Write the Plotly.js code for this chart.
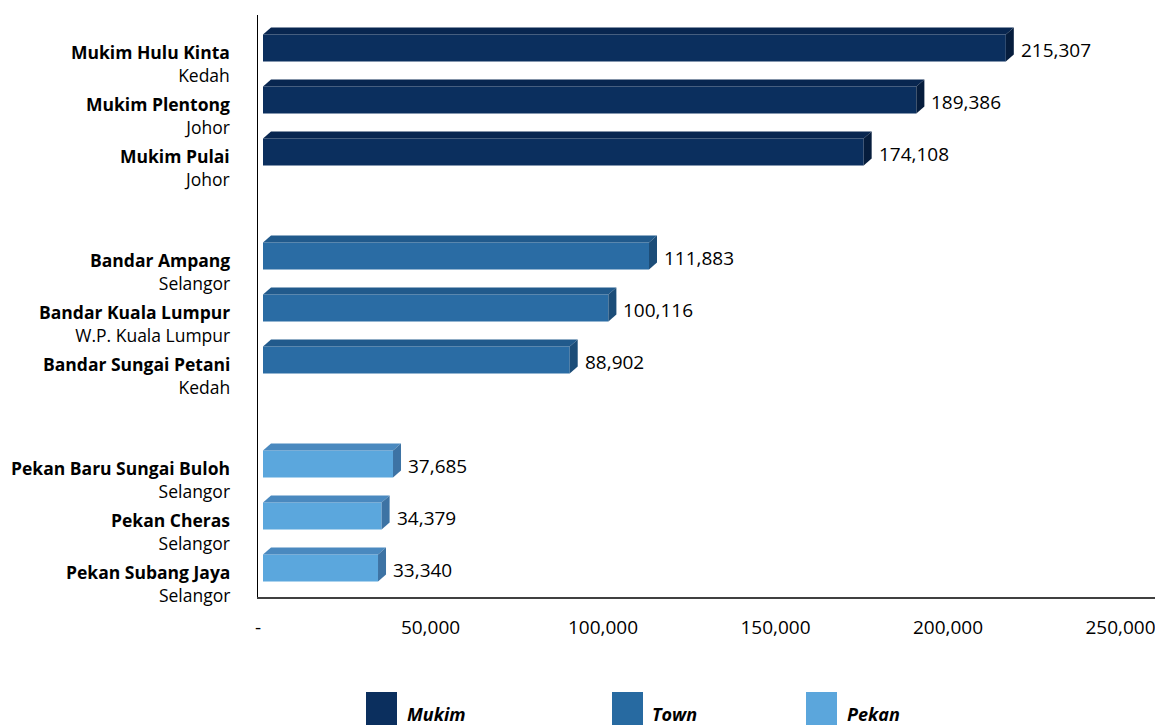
<!DOCTYPE html>
<html>
<head>
<meta charset="utf-8">
<script src="https://cdn.plot.ly/plotly-3.0.1.min.js"></script>
<style>html,body{margin:0;padding:0;background:#fff;}#chart{width:1155px;height:725px;}</style>
</head>
<body>
<div id="chart"></div>
<script>
// ---- data ----
const names = ["Mukim Hulu Kinta","Mukim Plentong","Mukim Pulai","Bandar Ampang","Bandar Kuala Lumpur","Bandar Sungai Petani","Pekan Baru Sungai Buloh","Pekan Cheras","Pekan Subang Jaya"];
const states = ["Kedah","Johor","Johor","Selangor","W.P. Kuala Lumpur","Kedah","Selangor","Selangor","Selangor"];
const values = [215307,189386,174108,111883,100116,88902,37685,34379,33340];
const groupOf = [0,0,0,1,1,1,2,2,2];
const groupNames = ["Mukim","Town","Pekan"];
const xTickVals = [0,50000,100000,150000,200000,250000];
const xTickText = ["-","50,000","100,000","150,000","200,000","250,000"];

// ---- styling / geometry ----
const W=1155,H=725, M={l:258,r:0,t:15,b:128};
const plotW=W-M.l-M.r, plotH=H-M.t-M.b;
const XMAX=260000;
const Y_TOP=-0.635, Y_BOT=10.558;
const pxX=plotW/XMAX, pxY=plotH/(Y_BOT-Y_TOP);
const dx=8/pxX, dy=7/pxY, base=5/pxX, half=13.5/pxY;
const frontCol=["#0b2f5e","#2a6ca4","#5ba7dd"];
const topCol=["#082650","#215a8c","#4a89bf"];
const sideCol=["#061d3d","#1c4d78","#3d73a4"];
const legendCol=["#0b2f5e","#276aa1","#5ba6dc"];
const FONT="Open Sans";

const slots = values.map((v,i)=>i+groupOf[i]);
const fmt = v=>v.toLocaleString("en-US");

const traces=[];
// front faces: one bar trace per group
for(let g=0;g<3;g++){
  const idx=values.map((v,i)=>i).filter(i=>groupOf[i]===g);
  traces.push({
    type:"bar", orientation:"h", name:groupNames[g],
    x:idx.map(i=>values[i]), y:idx.map(i=>slots[i]),
    base:idx.map(()=>base), width:2*half,
    marker:{color:frontCol[g], line:{width:0}},
    hoverinfo:"skip", showlegend:false
  });
}
// top and side faces
values.forEach((v,i)=>{
  const g=groupOf[i], s=slots[i], x1=base+v;
  traces.push({type:"scatter",mode:"lines",fill:"toself",fillcolor:topCol[g],line:{width:0,color:topCol[g]},
    x:[base,x1,x1+dx,base+dx,base], y:[s-half,s-half,s-half-dy,s-half-dy,s-half],
    hoverinfo:"skip",showlegend:false});
  traces.push({type:"scatter",mode:"lines",fill:"toself",fillcolor:sideCol[g],line:{width:0,color:sideCol[g]},
    x:[x1,x1+dx,x1+dx,x1,x1], y:[s-half,s-half-dy,s+half-dy,s+half,s-half],
    hoverinfo:"skip",showlegend:false});
});

const annotations=[];
values.forEach((v,i)=>{
  const s=slots[i];
  annotations.push({x:base+v,y:s,xref:"x",yref:"y",text:fmt(v),showarrow:false,xanchor:"left",
    xshift:dx*pxX+5,yshift:-2,font:{family:FONT,size:19,color:"#000"}});
  annotations.push({x:0,y:s,xref:"paper",yref:"y",text:"<b>"+names[i]+"</b><br>"+states[i],showarrow:false,
    xanchor:"right",align:"right",yanchor:"middle",
    xshift:-26,yshift:-15.5,font:{family:FONT,size:17.5,color:"#000"}});
});
// legend (drawn)
const legSq=[366,612,806], legTxt=[405,650,845];
const shapes=[];
const py=px=>-(px-(H-M.b))/plotH;
const pxp=px=>(px-M.l)/plotW;
groupNames.forEach((n,g)=>{
  shapes.push({type:"rect",xref:"paper",yref:"paper",x0:pxp(legSq[g]),x1:pxp(legSq[g]+31),y0:py(692),y1:py(740),
    fillcolor:legendCol[g],line:{width:0}});
  annotations.push({xref:"paper",yref:"paper",x:pxp(legTxt[g]),y:py(714),text:"<b><i>"+n+"</i></b>",showarrow:false,
    xanchor:"left",yanchor:"middle",font:{family:FONT,size:18,color:"#000"}});
});

const layout={
  width:W,height:H,margin:M,paper_bgcolor:"#fff",plot_bgcolor:"#fff",
  showlegend:false,barmode:"overlay",
  xaxis:{range:[0,XMAX],tickvals:xTickVals,ticktext:xTickText,showgrid:false,zeroline:false,
    showline:true,linecolor:"#404040",linewidth:2,ticks:"outside",ticklen:12,tickcolor:"rgba(0,0,0,0)",
    ticklabeloverflow:"allow",
    tickfont:{family:FONT,size:19,color:"#000"},fixedrange:true},
  yaxis:{range:[Y_BOT,Y_TOP],showgrid:false,zeroline:false,showline:true,linecolor:"#000",linewidth:1,
    showticklabels:false,ticks:"",fixedrange:true},
  annotations:annotations,shapes:shapes
};
Plotly.newPlot("chart",traces,layout,{displayModeBar:false,staticPlot:true});
</script>
</body>
</html>
